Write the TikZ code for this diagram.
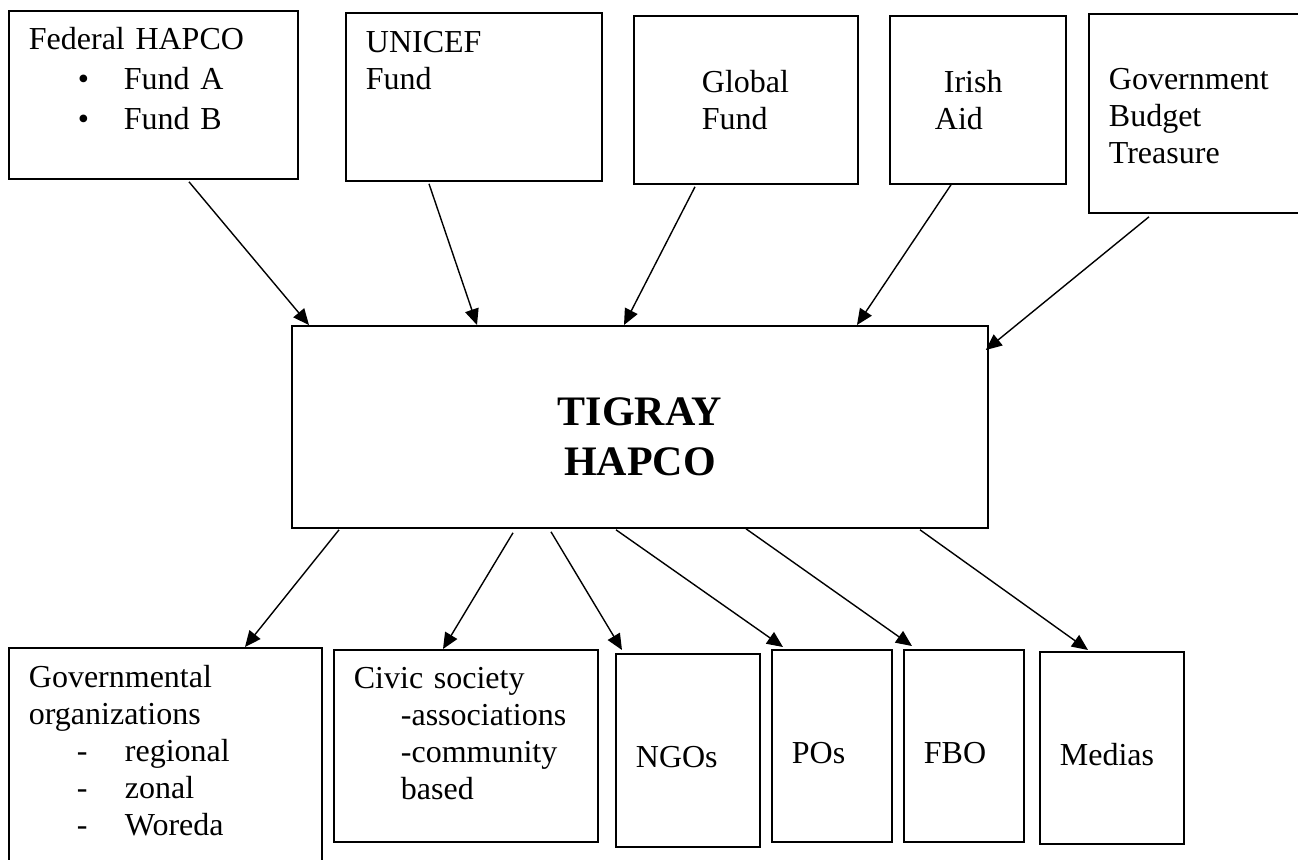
\documentclass[tikz,border=0pt]{standalone}
\usepackage{fontspec}
\setmainfont{Liberation Serif}
\usepackage{tikz}
\usetikzlibrary{positioning,arrows.meta,calc}

\begin{document}
\begin{tikzpicture}[
x=0.5pt,
y=-0.5pt,
>={Triangle[length=8pt,width=7pt]},
box/.style={
draw,
line width=0.9pt,
anchor=north west,
align=left,
inner xsep=10pt,
inner ysep=0pt,
font=\fontsize{16pt}{18.5pt}\selectfont
},
bigbox/.style={
box,
align=center,
font=\fontsize{21pt}{25pt}\selectfont\bfseries
},
arrow/.style={
->,
line width=0.7pt
}
]

\useasboundingbox (0,0) rectangle (1298,859);
\clip (0,0) rectangle (1298,859);

%%%%%%%%%%%%%%%%%%%%%%%%%%%%%%%%%%%%%%%%%%%%%
% Funding sources
%%%%%%%%%%%%%%%%%%%%%%%%%%%%%%%%%%%%%%%%%%%%%

\node[box, text width=124.5pt, text height=19.5pt, text depth=64.5pt] (fed) at (8,10)
{Federal HAPCO\\[1.5pt]
\hspace*{24.5pt}\makebox[23pt][l]{\textbullet}Fund A\\[1.5pt]
\hspace*{24.5pt}\makebox[23pt][l]{\textbullet}Fund B};

\node[box, text width=108pt, text height=20pt, text depth=64pt] (unicef) at (345,12)
{UNICEF\\
Fund};

\node[box, text width=92pt, text height=38.5pt, text depth=45.5pt] (global) at (633,15)
{\hspace*{24pt}Global\\
\hspace*{24pt}Fund};

\node[box, text width=68pt, text height=38.5pt, text depth=45.5pt] (irish) at (889,15)
{\hspace*{17pt}Irish\\
\hspace*{12.5pt}Aid};

\node[box, text width=91pt, text height=38pt, text depth=61.5pt] (gov) at (1088,13)
{Government\\
Budget\\
Treasure};

%%%%%%%%%%%%%%%%%%%%%%%%%%%%%%%%%%%%%%%%%%%%%
% Regional office
%%%%%%%%%%%%%%%%%%%%%%%%%%%%%%%%%%%%%%%%%%%%%

\node[bigbox, text width=328pt, text height=50pt, text depth=51pt] (tigray) at (291,325)
{TIGRAY\\
HAPCO};

%%%%%%%%%%%%%%%%%%%%%%%%%%%%%%%%%%%%%%%%%%%%%
% Partners
%%%%%%%%%%%%%%%%%%%%%%%%%%%%%%%%%%%%%%%%%%%%%

\node[box, text width=136.5pt, text height=20pt, text depth=96.5pt] (govorg) at (8,647)
{Governmental\\
organizations\\
\hspace*{24pt}\makebox[24pt][l]{-}regional\\
\hspace*{24pt}\makebox[24pt][l]{-}zonal\\
\hspace*{24pt}\makebox[24pt][l]{-}Woreda};

\node[box, text width=112pt, text height=19.5pt, text depth=76.5pt] (civic) at (333,649)
{Civic society\\
\hspace*{23.5pt}-associations\\
\hspace*{23.5pt}-community\\
\hspace*{23.5pt}based};

\node[box, text width=52pt, text height=57pt, text depth=39.5pt] (ngo) at (615,653)
{NGOs};

\node[box, text width=40pt, text height=57pt, text depth=39pt] (po) at (771,649)
{POs};

\node[box, text width=40pt, text height=57pt, text depth=39pt] (fbo) at (903,649)
{FBO};

\node[box, text width=52pt, text height=57pt, text depth=39pt] (media) at (1039,651)
{Medias};

%%%%%%%%%%%%%%%%%%%%%%%%%%%%%%%%%%%%%%%%%%%%%
% Connections
%%%%%%%%%%%%%%%%%%%%%%%%%%%%%%%%%%%%%%%%%%%%%

\draw[arrow] ($(fed.south west)+(181,2)$)--($(tigray.north west)+(18,0)$);

\draw[arrow] ($(unicef.south west)+(84,2)$)--($(tigray.north west)+(186,0)$);

\draw[arrow] ($(global.south west)+(62,2)$)--($(tigray.north west)+(333,0)$);

\draw[arrow] ($(irish.south west)+(62,0)$)--($(tigray.north west)+(566,0)$);

\draw[arrow] ($(gov.south west)+(61,3)$)--($(tigray.north east)+(-3,25)$);

\draw[arrow] ($(tigray.south west)+(48,1)$)--($(govorg.north west)+(237,0)$);

\draw[arrow] ($(tigray.south west)+(222,4)$)--($(civic.north west)+(110,0)$);

\draw[arrow] ($(tigray.south west)+(260,3)$)--($(ngo.north west)+(7,-3)$);

\draw[arrow] ($(tigray.south west)+(325,1)$)--($(po.north west)+(12,-2)$);

\draw[arrow] ($(tigray.south west)+(455,0)$)--($(fbo.north west)+(9,-3)$);

\draw[arrow] ($(tigray.south west)+(629,1)$)--($(media.north west)+(49,-1)$);

\end{tikzpicture}
\end{document}
